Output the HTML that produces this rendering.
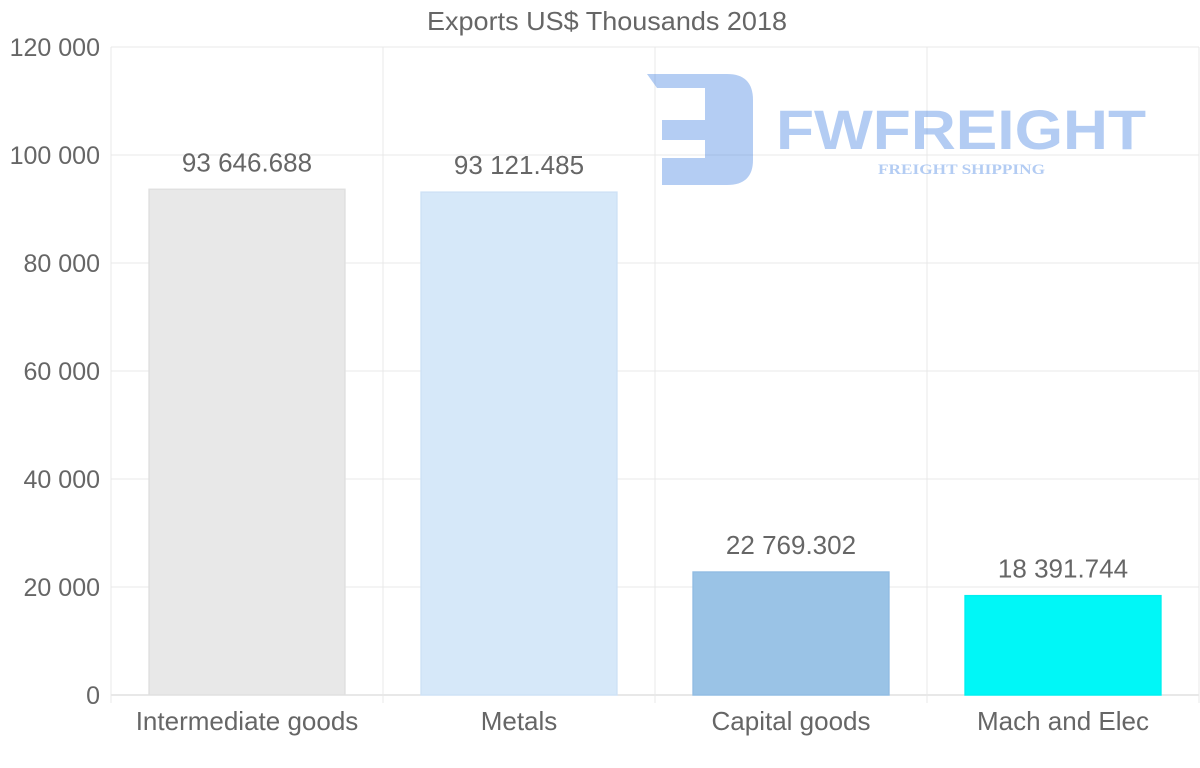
<!DOCTYPE html>
<html><head><meta charset="utf-8"><style>
body{margin:0;background:#fff;width:1200px;height:763px;overflow:hidden;font-family:"Liberation Sans",sans-serif}
</style></head><body>
<svg id="chart" width="1200" height="763" xmlns="http://www.w3.org/2000/svg">
<text x="607" y="30" text-anchor="middle" font-size="26" fill="#666" textLength="360" lengthAdjust="spacingAndGlyphs">Exports US$ Thousands 2018</text>
<g id="grid"></g>
<g id="logo" opacity="0.38">
<path d="M647,74 H727 Q753,74 753,100 V160 Q753,185 727,185 H662 V158 H705 V140 H662 V120 H705 V88 H657 Z" fill="#3a7be0"/>
<text x="776" y="149" font-size="56" font-weight="bold" fill="#3a7be0" textLength="370" lengthAdjust="spacingAndGlyphs">FWFREIGHT</text>
<text x="878" y="174" font-size="15" font-weight="bold" font-family="Liberation Serif,serif" fill="#3a7be0" textLength="167" lengthAdjust="spacingAndGlyphs">FREIGHT SHIPPING</text>
</g>
<g id="bars"></g>
</svg>
<script>
const categories=["Intermediate goods","Metals","Capital goods","Mach and Elec"];
const values=[93646.688,93121.485,22769.302,18391.744];
const valueLabels=["93 646.688","93 121.485","22 769.302","18 391.744"];
const yTicks=[0,20000,40000,60000,80000,100000,120000];
const yTickLabels=["0","20 000","40 000","60 000","80 000","100 000","120 000"];
const colors=["#e8e8e8","#d6e8f9","#9ac3e6","#00f7f7"];
const borders=["#e0e0e0","#cfe2f6","#92bde3","#00f0f0"];
const L=111,R=1199,T=47,B=695,NS="http://www.w3.org/2000/svg";
const y=v=>B-(v/120000)*(B-T);
const bw=(R-L)/categories.length;
const x=i=>L+i*bw;
const grid=document.getElementById('grid'),bars=document.getElementById('bars');
function mk(tag,a,p){const e=document.createElementNS(NS,tag);for(const k in a)e.setAttribute(k,a[k]);p.appendChild(e);return e;}
yTicks.forEach((t,i)=>{
 const l=mk('line',{x1:L,x2:R,y1:y(t),y2:y(t),stroke:t===0?'#d0d0d0':'#e8e8e8'},grid);
 
 
 const tx=mk('text',{x:100,y:y(t)+9,'text-anchor':'end','font-size':25,fill:'#666'},grid);
 tx.textContent=yTickLabels[i];
 
 
});
for(let i=0;i<=categories.length;i++){
 const l=mk('line',{x1:x(i),x2:x(i),y1:T,y2:B+8,stroke:'#e8e8e8'},grid);
 
 
}
categories.forEach((c,i)=>{
 const cx=x(i)+bw/2,w=bw*0.72;
 const r=mk('rect',{x:cx-w/2,y:y(values[i]),width:w,height:B-y(values[i]),fill:colors[i],stroke:borders[i],'stroke-width':1.5},bars);
 
 
 const vl=mk('text',{x:cx,y:y(values[i])-18,'text-anchor':'middle','font-size':26,fill:'#666'},bars);
 vl.textContent=valueLabels[i];
 
 
 const xl=mk('text',{x:cx,y:730,'text-anchor':'middle','font-size':26,fill:'#666'},bars);
 xl.textContent=c;
 
 
});
</script>
</body></html>
